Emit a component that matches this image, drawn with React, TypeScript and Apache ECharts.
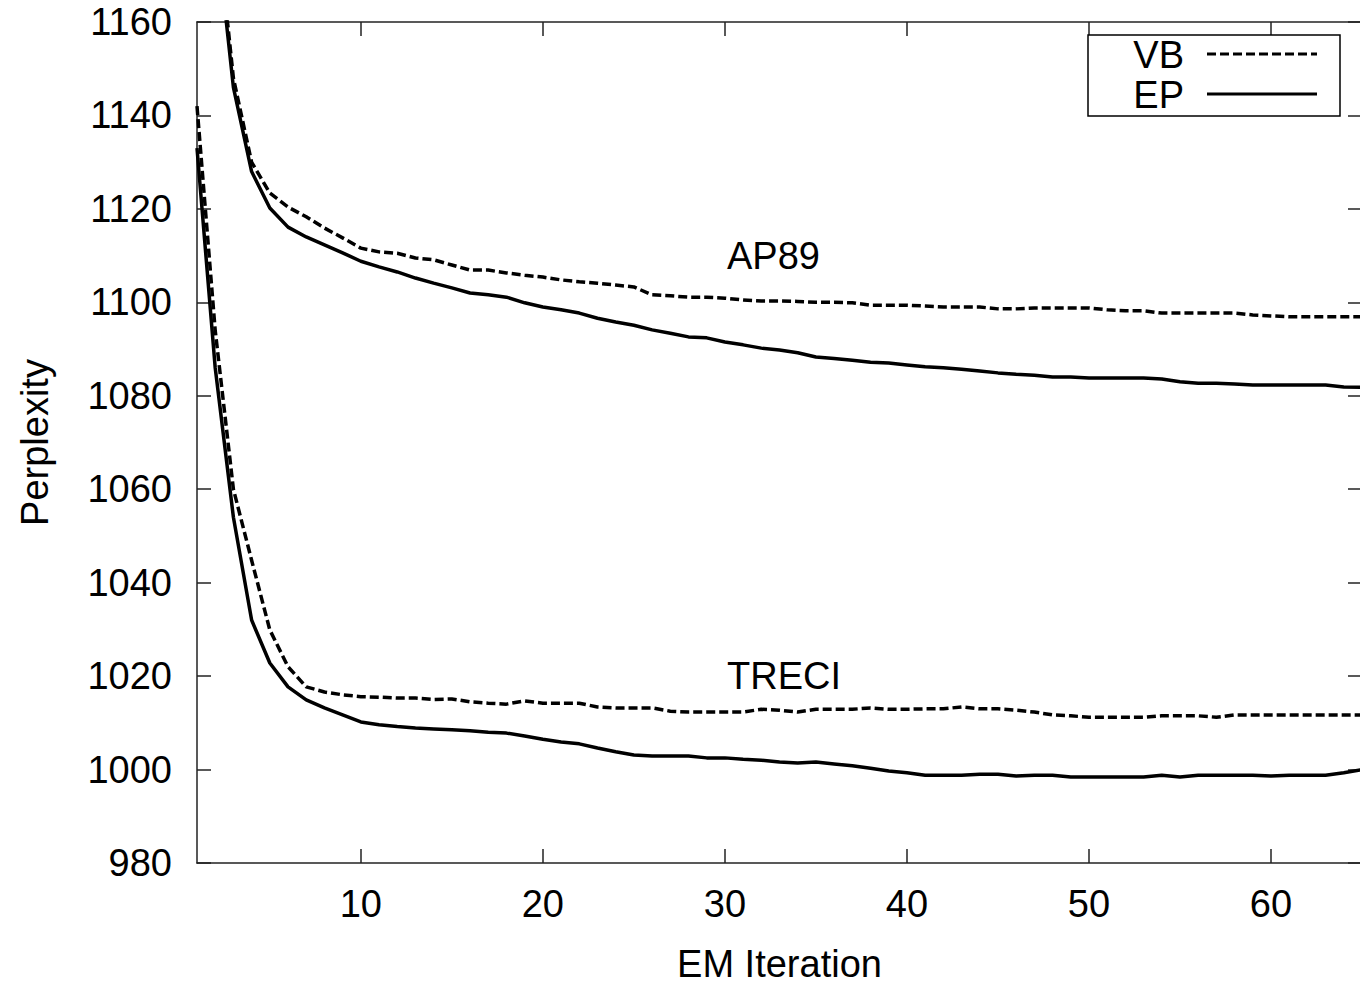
import React, { useEffect, useRef } from "react";
import * as echarts from "echarts";

const iterations: number[] = Array.from({ length: 65 }, (_, k) => k + 1);

const ap89VB: number[] = [
  1230, 1185, 1148, 1130, 1123.4, 1120.4, 1118.3, 1115.9, 1113.8, 1111.6,
  1110.8, 1110.5, 1109.5, 1109.1, 1108, 1106.9, 1106.9, 1106.3, 1105.8, 1105.4,
  1104.8, 1104.4, 1104.1, 1103.7, 1103.3, 1101.6, 1101.4, 1101.1, 1101.1, 1100.9,
  1100.5, 1100.3, 1100.3, 1100.2, 1100, 1100, 1099.9, 1099.4, 1099.4, 1099.4,
  1099.2, 1099, 1099, 1099, 1098.6, 1098.6, 1098.8, 1098.8, 1098.8, 1098.8,
  1098.4, 1098.2, 1098.2, 1097.7, 1097.7, 1097.7, 1097.7, 1097.7, 1097.3, 1097.1,
  1096.9, 1096.9, 1096.9, 1096.9, 1096.9,
];

const ap89EP: number[] = [
  1225, 1182, 1146, 1128, 1120.2, 1116.1, 1114, 1112.3, 1110.6, 1108.8,
  1107.6, 1106.5, 1105.2, 1104.1, 1103.1, 1102, 1101.6, 1101.1, 1099.9, 1099,
  1098.4, 1097.7, 1096.6, 1095.8, 1095.1, 1094.1, 1093.4, 1092.6, 1092.4, 1091.5,
  1090.9, 1090.2, 1089.8, 1089.2, 1088.3, 1088, 1087.6, 1087.2, 1087, 1086.6,
  1086.2, 1086, 1085.7, 1085.3, 1084.9, 1084.6, 1084.4, 1084, 1084, 1083.8,
  1083.8, 1083.8, 1083.8, 1083.6, 1083, 1082.7, 1082.7, 1082.5, 1082.3, 1082.3,
  1082.3, 1082.3, 1082.3, 1081.9, 1081.8,
];

const treciVB: number[] = [
  1142, 1094, 1060, 1044.8, 1029.9, 1022, 1017.7, 1016.6, 1016, 1015.6,
  1015.5, 1015.3, 1015.3, 1015, 1015.1, 1014.5, 1014.2, 1014, 1014.7, 1014.2,
  1014.2, 1014.2, 1013.4, 1013.2, 1013.2, 1013.2, 1012.5, 1012.3, 1012.3, 1012.3,
  1012.3, 1012.9, 1012.7, 1012.3, 1012.9, 1012.9, 1012.9, 1013.2, 1012.9, 1012.9,
  1013, 1013, 1013.4, 1013, 1013, 1012.7, 1012.3, 1011.7, 1011.5, 1011.2,
  1011.2, 1011.2, 1011.2, 1011.5, 1011.5, 1011.5, 1011.2, 1011.7, 1011.7, 1011.7,
  1011.7, 1011.7, 1011.7, 1011.7, 1011.7,
];

const treciEP: number[] = [
  1133, 1086, 1054, 1032, 1022.8, 1017.7, 1014.9, 1013.2, 1011.7, 1010.2,
  1009.6, 1009.2, 1008.9, 1008.7, 1008.5, 1008.3, 1008, 1007.8, 1007.2, 1006.5,
  1005.9, 1005.5, 1004.6, 1003.8, 1003.1, 1002.9, 1002.9, 1002.9, 1002.5, 1002.5,
  1002.2, 1002, 1001.6, 1001.4, 1001.6, 1001.2, 1000.8, 1000.3, 999.7, 999.3,
  998.8, 998.8, 998.8, 999, 999, 998.6, 998.8, 998.8, 998.4, 998.4,
  998.4, 998.4, 998.4, 998.8, 998.4, 998.8, 998.8, 998.8, 998.8, 998.6,
  998.8, 998.8, 998.8, 999.3, 1000,
];

const xTicks: number[] = [10, 20, 30, 40, 50, 60];
const legendNames: string[] = ["VB", "EP"];
const datasetLabels: string[] = ["AP89", "TRECI"];

const FONT = "'Liberation Sans', Arial, Helvetica, sans-serif";

function pairs(vals: number[]): number[][] {
  return iterations.map((x, k) => [x, vals[k]]);
}

export default function App() {
  const ref = useRef<HTMLDivElement>(null);
  useEffect(() => {
    if (!ref.current) return;
    const chart = echarts.init(ref.current, undefined, { renderer: "svg" });
    const axisLine = { show: true, lineStyle: { color: "#222", width: 1.5 } };
    const tick = { inside: true, length: 14, lineStyle: { color: "#222", width: 1.5 } };
    const dashed = { color: "#000", width: 3.5, type: [9, 4] as any };
    const solid = { color: "#000", width: 3.5, type: "solid" as any };
    const plain = (v: number) => String(v);
    chart.setOption({
      animation: false,
      backgroundColor: "#fff",
      textStyle: { fontFamily: FONT },
      grid: {
        left: 197,
        right: 8,
        top: 22,
        bottom: 122,
        containLabel: false,
        outerBoundsMode: "none",
      },
      xAxis: [
        {
          type: "value",
          min: 1,
          max: 65,
          position: "bottom",
          name: "EM Iteration",
          nameLocation: "middle",
          nameGap: 82,
          nameTextStyle: { fontSize: 38, color: "#000", fontFamily: FONT },
          axisLine,
          axisTick: { ...tick, customValues: xTicks },
          axisLabel: {
            customValues: xTicks,
            formatter: plain,
            fontSize: 38,
            color: "#000",
            margin: 22,
            fontFamily: FONT,
          },
          splitLine: { show: false },
        },
        {
          type: "value",
          min: 1,
          max: 65,
          position: "top",
          axisLine,
          axisTick: { ...tick, customValues: xTicks },
          axisLabel: { show: false },
          splitLine: { show: false },
        },
      ],
      yAxis: [
        {
          type: "value",
          min: 980,
          max: 1160,
          interval: 20,
          position: "left",
          name: "Perplexity",
          nameLocation: "middle",
          nameGap: 143,
          nameRotate: 90,
          nameTextStyle: { fontSize: 38, color: "#000", fontFamily: FONT },
          axisLine,
          axisTick: tick,
          axisLabel: { formatter: plain, fontSize: 38, color: "#000", margin: 25, fontFamily: FONT },
          splitLine: { show: false },
        },
        {
          type: "value",
          min: 980,
          max: 1160,
          interval: 20,
          position: "right",
          axisLine,
          axisTick: tick,
          axisLabel: { show: false },
          splitLine: { show: false },
        },
      ],
      series: [
        { name: "AP89 VB", type: "line", data: pairs(ap89VB), showSymbol: false, clip: true, lineStyle: dashed, xAxisIndex: 0, yAxisIndex: 0 },
        { name: "AP89 EP", type: "line", data: pairs(ap89EP), showSymbol: false, clip: true, lineStyle: solid, xAxisIndex: 0, yAxisIndex: 0 },
        { name: "TRECI VB", type: "line", data: pairs(treciVB), showSymbol: false, clip: true, lineStyle: dashed, xAxisIndex: 0, yAxisIndex: 0 },
        { name: "TRECI EP", type: "line", data: pairs(treciEP), showSymbol: false, clip: true, lineStyle: solid, xAxisIndex: 0, yAxisIndex: 0 },
      ],
      graphic: [
        {
          type: "rect",
          shape: { x: 1088, y: 35, width: 252, height: 81 },
          style: { fill: "#fff", stroke: "#000", lineWidth: 1.5 },
          z: 10,
        },
        {
          type: "text",
          x: 1184,
          y: 55,
          style: { text: legendNames[0], fontSize: 38, fill: "#000", align: "right", verticalAlign: "middle", fontFamily: FONT },
          z: 11,
        },
        {
          type: "text",
          x: 1184,
          y: 95,
          style: { text: legendNames[1], fontSize: 38, fill: "#000", align: "right", verticalAlign: "middle", fontFamily: FONT },
          z: 11,
        },
        {
          type: "line",
          shape: { x1: 1207, y1: 54, x2: 1317, y2: 54 },
          style: { stroke: "#000", lineWidth: 3, lineDash: [9, 4] },
          z: 11,
        },
        {
          type: "line",
          shape: { x1: 1207, y1: 94, x2: 1317, y2: 94 },
          style: { stroke: "#000", lineWidth: 3 },
          z: 11,
        },
        {
          type: "text",
          x: 727,
          y: 256,
          style: { text: datasetLabels[0], fontSize: 38, fill: "#000", align: "left", verticalAlign: "middle", fontFamily: FONT },
        },
        {
          type: "text",
          x: 727,
          y: 676,
          style: { text: datasetLabels[1], fontSize: 38, fill: "#000", align: "left", verticalAlign: "middle", fontFamily: FONT },
        },
      ],
    });
    return () => chart.dispose();
  }, []);
  return (
    <div style={{ position: "fixed", left: 0, top: 0, width: 1360, height: 985, overflow: "hidden", background: "#fff" }}>
      <div ref={ref} style={{ width: 1370, height: 985 }} />
    </div>
  );
}
